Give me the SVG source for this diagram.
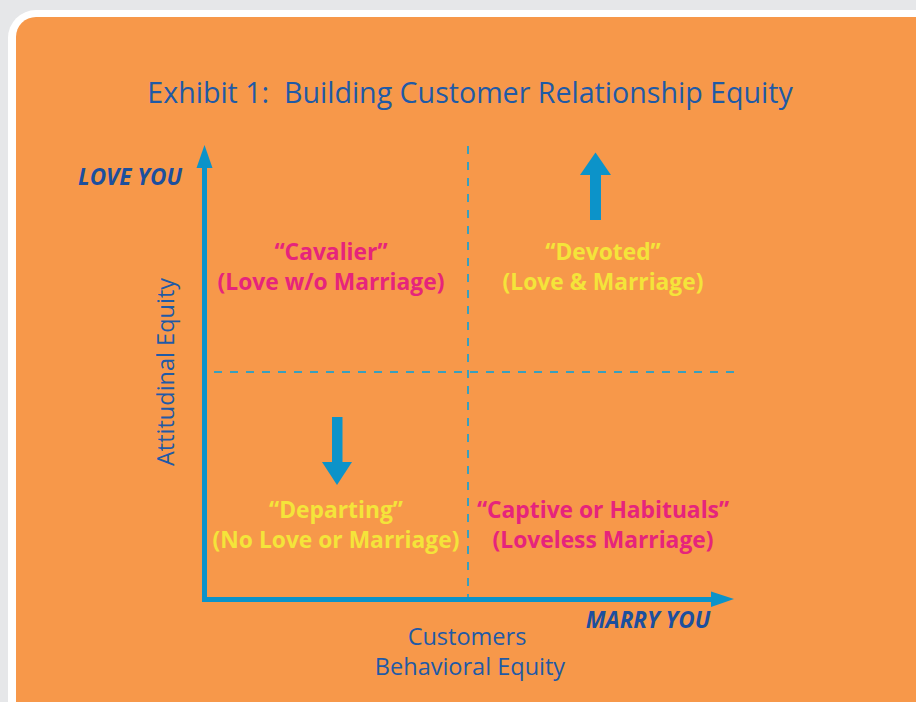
<svg xmlns="http://www.w3.org/2000/svg" width="916" height="702" viewBox="0 0 916 702">
<defs>
<style>
.t{font-family:"Open Sans","Noto Sans",sans-serif;}
.title{font-size:28.6px;fill:#1f5aa6;white-space:pre;}
.ax{font-size:23.5px;fill:#1f5aa6;}
.lab{font-size:22.5px;font-weight:bold;font-style:italic;fill:#1c4f9e;}
.q{font-size:22.8px;font-weight:bold;}
.pink{fill:#e6247c;}
.yel{fill:#f4e43a;}
.axis{stroke:#0c93c9;stroke-width:5;fill:none;}
.dash{stroke:#3a9fbd;stroke-width:2;stroke-dasharray:8 8;fill:none;}
.blue{fill:#0c93c9;}
</style>
</defs>
<rect x="0" y="0" width="916" height="702" fill="#e6e7e9"/>
<rect x="8" y="10" width="940" height="720" rx="28" fill="#ffffff"/>
<rect x="16" y="17" width="930" height="710" rx="20" fill="#f7984a"/>
<text class="t title" x="470" y="103" text-anchor="middle" xml:space="preserve">Exhibit 1:  Building Customer Relationship Equity</text>
<g id="connectors">
<path class="dash" d="M468 146 V598"/>
<path class="dash" d="M214 372 H736"/>
<path class="axis" d="M204.5 166 V599.5 H713"/>
<polygon class="blue" points="204.5,145 196.5,168 212.5,168"/>
<polygon class="blue" points="734,599 711,591.5 711,607"/>
</g>
<g id="axis-y-label">
<text class="t lab" x="130" y="185" text-anchor="middle">LOVE YOU</text>
<text class="t ax" transform="translate(174 372) rotate(-90)" text-anchor="middle">Attitudinal Equity</text>
</g>
<g id="axis-x-label">
<text class="t lab" x="648" y="628" text-anchor="middle">MARRY YOU</text>
<text class="t ax" x="467" y="645" text-anchor="middle">Customers</text>
<text class="t ax" x="470" y="675" text-anchor="middle">Behavioral Equity</text>
</g>
<g id="up-arrow">
<rect class="blue" x="590" y="174" width="11" height="46"/>
<polygon class="blue" points="595.5,152.5 580,175 611,175"/>
</g>
<g id="down-arrow">
<rect class="blue" x="332" y="417" width="10.5" height="46"/>
<polygon class="blue" points="337,485 322,462 352,462"/>
</g>
<g id="cavalier">
<text class="t q pink" x="331" y="260" text-anchor="middle">“Cavalier”</text>
<text class="t q pink" x="331" y="290" text-anchor="middle">(Love w/o Marriage)</text>
</g>
<g id="devoted">
<text class="t q yel" x="603" y="260" text-anchor="middle">“Devoted”</text>
<text class="t q yel" x="603" y="290" text-anchor="middle">(Love &amp; Marriage)</text>
</g>
<g id="departing">
<text class="t q yel" x="336" y="518" text-anchor="middle">“Departing”</text>
<text class="t q yel" x="336" y="548" text-anchor="middle">(No Love or Marriage)</text>
</g>
<g id="captive">
<text class="t q pink" x="603" y="518" text-anchor="middle">“Captive or Habituals”</text>
<text class="t q pink" x="603" y="548" text-anchor="middle">(Loveless Marriage)</text>
</g>
</svg>
